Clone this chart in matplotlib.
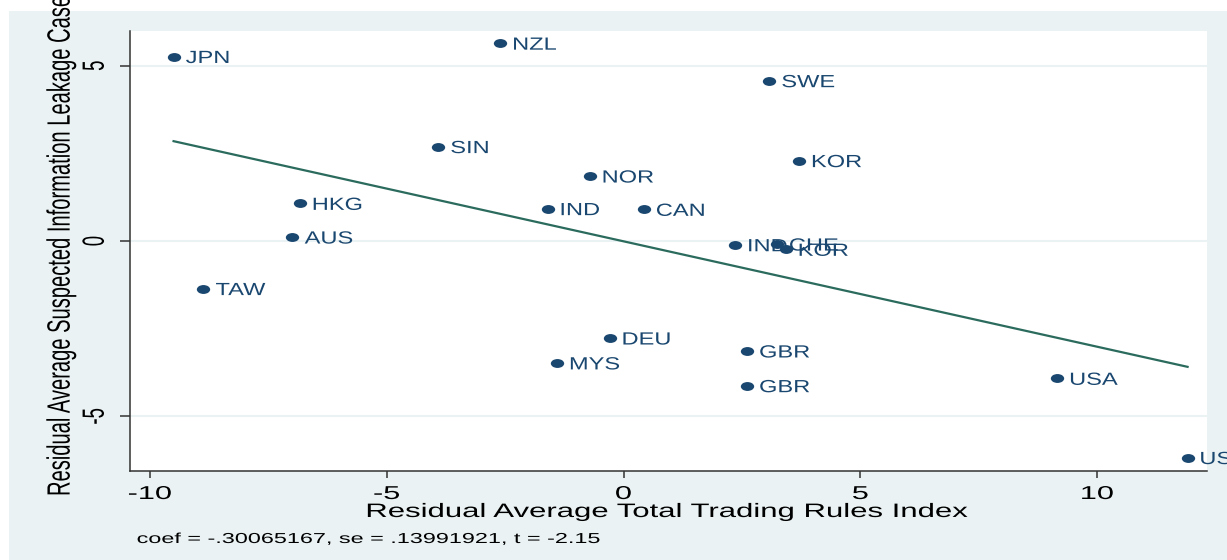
import matplotlib
matplotlib.use("Agg")
import numpy as np
import matplotlib.pyplot as plt
from matplotlib.patches import Rectangle
from matplotlib.path import Path
from matplotlib.patheffects import AbstractPathEffect
from matplotlib.transforms import Affine2D

# residuals from the added-variable regression
countries = ["JPN", "NZL", "SWE", "SIN", "KOR", "NOR", "HKG", "IND", "CAN", "AUS",
             "IND", "CHE", "KOR", "TAW", "DEU", "GBR", "MYS", "GBR", "USA", "USA"]
trading_rules = [-9.50, -2.60, 3.08, -3.91, 3.71, -0.71, -6.83, -1.60, 0.43, -6.99,
                 2.36, 3.24, 3.43, -8.87, -0.29, 2.61, -1.40, 2.61, 9.16, 11.91]
leakage = [5.26, 5.64, 4.57, 2.69, 2.29, 1.85, 1.07, 0.92, 0.90, 0.11,
           -0.11, -0.09, -0.24, -1.36, -2.77, -3.14, -3.48, -4.13, -3.92, -6.18]
xticks = [-10, -5, 0, 5, 10]
yticks = [-5, 0, 5]
coef = -.30065167
se = .13991921

NAVY = "#1a476f"
FIT = "#2b6b5d"
BLUISH = "#eaf2f3"
FONT = "Liberation Sans"
plt.rcParams["axes.unicode_minus"] = False


class HStretch(AbstractPathEffect):
    """Widen glyphs horizontally around their left edge or centre."""

    def __init__(self, sx, anchor="center"):
        super().__init__()
        self.sx = sx
        self.anchor = anchor

    def draw_path(self, renderer, gc, tpath, affine, rgbFace=None):
        verts = affine.transform(tpath.vertices)
        if tpath.codes is not None:
            verts = verts[tpath.codes != Path.CLOSEPOLY]
        if len(verts) == 0:
            return
        x0, x1 = verts[:, 0].min(), verts[:, 0].max()
        a = x0 if self.anchor == "left" else (x0 + x1) / 2
        st = Affine2D().translate(-a, 0).scale(self.sx, 1).translate(a, 0)
        renderer.draw_path(gc, tpath, affine + st, rgbFace)


def wide(sx, anchor="center"):
    return [HStretch(sx, anchor)]


W, H = 1227, 560
fig = plt.figure(figsize=(W / 100, H / 100), dpi=100, facecolor="white")
fig.patches.append(Rectangle((9 / W, 0), 1 - 9 / W, 1 - 11 / H, transform=fig.transFigure,
                             facecolor=BLUISH, edgecolor="none", zorder=-1))
ax = fig.add_axes([130 / W, 1 - 471 / H, 1077 / W, 440 / H])
ax.set_facecolor("white")

x = np.array(trading_rules)
y = np.array(leakage)

# fitted line through the means with the reported slope
xs = np.array([x.min(), x.max()])
ax.plot(xs, y.mean() + coef * (xs - x.mean()), color=FIT, lw=1.6, zorder=2)

dot = Path(Affine2D().scale(1.5, 1).transform(Path.unit_circle().vertices), Path.unit_circle().codes)
ax.plot(x, y, ls="none", marker=dot, ms=9.6, mfc=NAVY, mec=NAVY, mew=0, zorder=4)

for name, xi, yi in zip(countries, x, y):
    t = ax.annotate(name, (xi, yi), xytext=(8.8, -4.6), textcoords="offset points",
                    ha="left", va="baseline", color=NAVY, fontsize=12.7, family=FONT,
                    zorder=3)
    t.set_clip_on(True)
    t.set_path_effects(wide(1.34, "left"))

ax.set_xlim(-10.42, 12.32)
ax.set_ylim(-6.56, 5.99)
ax.set_xticks(xticks)
ax.set_yticks(yticks)
ax.grid(axis="y", color=BLUISH, lw=1.5, zorder=0)
ax.set_axisbelow(True)

for side in ("top", "right"):
    ax.spines[side].set_visible(False)
for side in ("left", "bottom"):
    ax.spines[side].set_color("#333333")
    ax.spines[side].set_linewidth(1.1)

ax.tick_params(axis="x", length=5, width=1.1, color="#333333", pad=5.8, labelsize=13.4)
ax.tick_params(axis="y", length=7.2, width=1.1, color="#333333", pad=11.8, labelsize=13.4,
               labelrotation=90)
for lab in ax.get_xticklabels() + ax.get_yticklabels():
    lab.set_family(FONT)
    lab.set_path_effects(wide(1.65))
for lab in ax.get_yticklabels():
    lab.set_va("center")

ax.set_xlabel("Residual Average Total Trading Rules Index", fontsize=14, family=FONT,
              va="baseline", path_effects=wide(1.6))
ax.xaxis.set_label_coords(0.5, (471 - 517) / 440)
ax.set_ylabel("Residual Average Suspected Information Leakage Cases", fontsize=14.5,
              family=FONT, rotation=90, rotation_mode="default", ha="center", va="bottom",
              path_effects=wide(1.6))
ax.yaxis.set_label_coords((61 - 130) / 1077, (471 - 496) / 440)

note = "coef = {}, se = {}, t = {:.2f}".format(
    f"{coef:.8f}".replace("0.", ".", 1), f"{se:.8f}".replace("0.", ".", 1), coef / se)
fig.text(137 / W, 1 - 543 / H, note, fontsize=10.4, family=FONT, ha="left", va="baseline",
         path_effects=wide(1.62, "left"))

fig.savefig("out.png", dpi=100, facecolor=fig.get_facecolor())
